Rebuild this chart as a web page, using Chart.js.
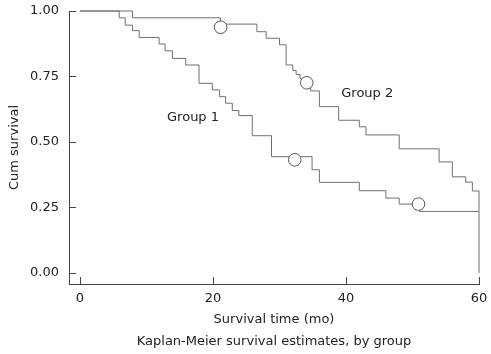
<!DOCTYPE html>
<html><head><meta charset="utf-8">
<script src="https://cdn.jsdelivr.net/npm/chart.js@4.4.0/dist/chart.umd.min.js"></script>
<style>html,body{margin:0;padding:0;background:#fff}#wrap{width:491px;height:354px}</style>
</head><body><div id="wrap"><canvas id="c" width="491" height="354"></canvas></div>
<script>
// ---- data ----
const xTicks = [0, 20, 40, 60];
const yTicks = [0, 0.25, 0.5, 0.75, 1];
const group1Times = [0, 5.9, 6.8, 7.9, 8.9, 11.9, 12.8, 13.9, 15.9, 17.9, 19.9, 21, 21.9, 22.9, 23.9, 25.9, 28.8, 34.9, 36, 42, 46, 48, 51, 60];
const group1Surv  = [1.0, 0.974, 0.946, 0.925, 0.899, 0.874, 0.848, 0.819, 0.794, 0.724, 0.699, 0.673, 0.648, 0.620, 0.601, 0.524, 0.444, 0.394, 0.346, 0.314, 0.286, 0.263, 0.235, 0.235];
const group2Times = [0, 7.9, 21.1, 26.6, 28, 30, 31, 32, 32.5, 33.1, 34.7, 36, 38.9, 42, 43, 48, 54, 56, 58, 59, 60];
const group2Surv  = [1.0, 0.974, 0.950, 0.921, 0.896, 0.871, 0.794, 0.773, 0.758, 0.743, 0.695, 0.635, 0.583, 0.558, 0.527, 0.474, 0.424, 0.367, 0.347, 0.313, 0];
const censorTimes = [21.15, 34.1, 32.3, 50.9];
const censorSurv  = [0.938, 0.726, 0.432, 0.263];
const groupNames = ['Group 1', 'Group 2'];
const xTitle = 'Survival time (mo)';
const caption = 'Kaplan-Meier survival estimates, by group';
const yTitle = 'Cum survival';

// ---- styles ----
const FONT = '"DejaVu Sans", Verdana, sans-serif';
const AXIS = '#444';
const LINE = '#707070';
const TEXT = '#222';

const toPts = (t, s) => t.map((v, i) => ({x: v, y: s[i]}));

const extras = {
  id: 'extras',
  afterDraw(chart) {
    const {ctx, scales: {x, y}} = chart;
    ctx.save();
    ctx.strokeStyle = AXIS; ctx.lineWidth = 1;
    ctx.beginPath();
    xTicks.forEach(v => { const px = Math.round(x.getPixelForValue(v)) + 0.5; ctx.moveTo(px, y.bottom); ctx.lineTo(px, y.bottom - 7); });
    yTicks.forEach(v => { const py = Math.round(y.getPixelForValue(v)) + 0.5; ctx.moveTo(x.left, py); ctx.lineTo(x.left + 7, py); });
    ctx.stroke();
    ctx.fillStyle = TEXT;
    ctx.font = '13px ' + FONT;
    ctx.textAlign = 'center'; ctx.textBaseline = 'middle';
    const labelPos = [[17.0, 0.592], [43.2, 0.686]];
    groupNames.forEach((n, i) => ctx.fillText(n, x.getPixelForValue(labelPos[i][0]), y.getPixelForValue(labelPos[i][1])));
    ctx.restore();
  }
};

new Chart(document.getElementById('c'), {
  type: 'line',
  data: {
    datasets: [
      {label: groupNames[0], data: toPts(group1Times, group1Surv), stepped: true, borderColor: LINE, borderWidth: 1, pointRadius: 0, fill: false, clip: 3, order: 2},
      {label: groupNames[1], data: toPts(group2Times, group2Surv), stepped: true, borderColor: LINE, borderWidth: 1, pointRadius: 0, fill: false, clip: 3, order: 2},
      {type: 'scatter', label: 'Censored', data: toPts(censorTimes, censorSurv), pointRadius: 6.3, pointBackgroundColor: '#fff', pointBorderColor: '#555', pointBorderWidth: 1, showLine: false, clip: 8, order: 1}
    ]
  },
  options: {
    responsive: false, animation: false, devicePixelRatio: 1,
    layout: {padding: {top: 11, right: 12, left: 0, bottom: 0}},
    plugins: {legend: {display: false}, tooltip: {enabled: false}},
    scales: {
      x: {
        type: 'linear', min: -1.65, max: 60,
        afterBuildTicks: s => { s.ticks = xTicks.map(v => ({value: v})); },
        afterFit: s => { s.height = 70; s.paddingLeft = 0; s.paddingRight = 0; },
        grid: {display: false, drawTicks: false},
        border: {display: true, color: AXIS, width: 1},
        ticks: {padding: 7, color: TEXT, font: {family: FONT, size: 13}, callback: v => String(v)},
        title: {display: true, text: [xTitle, caption], color: TEXT, font: {family: FONT, size: 13, lineHeight: 1.67}, padding: {top: 0, bottom: 1.5}}
      },
      y: {
        type: 'linear', min: -0.042, max: 1.0,
        afterBuildTicks: s => { s.ticks = yTicks.map(v => ({value: v})); },
        afterFit: s => { s.width = 69; s.paddingTop = 0; s.paddingBottom = 0; },
        grid: {display: false, drawTicks: false},
        border: {display: true, color: AXIS, width: 1},
        ticks: {padding: 10, color: TEXT, font: {family: FONT, size: 13}, callback: v => Number(v).toFixed(2)},
        title: {display: true, text: yTitle, color: TEXT, font: {family: FONT, size: 13}, padding: {top: 7, bottom: 0}}
      }
    }
  },
  plugins: [extras]
});
</script></body></html>
